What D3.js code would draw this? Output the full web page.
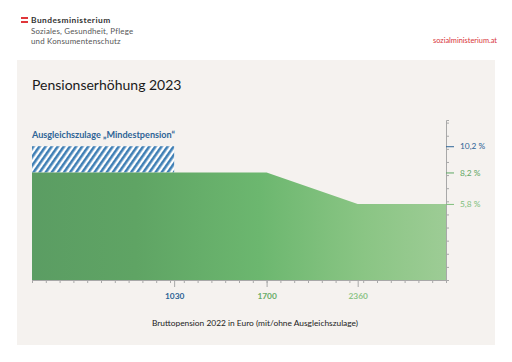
<!DOCTYPE html>
<html>
<head>
<meta charset="utf-8">
<script src="https://cdn.jsdelivr.net/npm/d3@7"></script>
<style>
  body { margin: 0; background: #fff; }
  svg { display: block; font-family: Lato, "Open Sans", sans-serif; }
</style>
</head>
<body>
<script>
// Daten
var stufenEuro = [0, 1030, 1700, 2360, 3000];       // Bruttopension 2022
var erhoehung  = [8.2, 8.2, 8.2, 5.8, 5.8];          // Erhöhung in %
var azGrenze = 1030, azWert = 10.2;                  // Ausgleichszulage
var xLabels = [1030, 1700, 2360];
var xLabelColors = ["#2e6496", "#68ad68", "#8cc487"];
var yLabels = [10.2, 8.2, 5.8];
var yLabelColors = ["#2e6496", "#5fa763", "#7fbf7c"];

var W = 512, H = 362;
var svg = d3.select("body").append("svg").attr("width", W).attr("height", H);

// Kopfzeile
svg.append("rect").attr("x", 21).attr("y", 17).attr("width", 7).attr("height", 2).attr("fill", "#e0363a");
svg.append("rect").attr("x", 21).attr("y", 21).attr("width", 7).attr("height", 2).attr("fill", "#e0363a");
svg.append("text").attr("x", 31).attr("y", 23).attr("font-size", 8.4).attr("font-weight", "bold")
    .attr("letter-spacing", 0.45).attr("fill", "#333").text("Bundesministerium");
var head = svg.append("text").attr("x", 31).attr("y", 33.5).attr("font-size", 7.9)
    .attr("letter-spacing", 0.2).attr("fill", "#555");
head.append("tspan").text("Soziales, Gesundheit, Pflege");
head.append("tspan").attr("x", 31).attr("dy", 10.5).text("und Konsumentenschutz");
svg.append("text").attr("x", 497).attr("y", 43).attr("text-anchor", "end")
    .attr("font-size", 7.4).attr("fill", "#d8333a").text("sozialministerium.at");

// Hintergrund Panel
svg.append("rect").attr("x", 17).attr("y", 60).attr("width", 478).attr("height", 285).attr("fill", "#f5f2ef");

svg.append("text").attr("x", 32).attr("y", 90).attr("font-size", 14).attr("fill", "#1a1a1a")
    .text("Pensionserhöhung 2023");

var margin = {left: 32, right: 66, top: 120, bottom: 82};
var plotW = W - margin.left - margin.right, plotH = H - margin.top - margin.bottom;
var g = svg.append("g").attr("transform", "translate(" + margin.left + "," + margin.top + ")");

var x = d3.scaleLinear().domain([0, 3000]).range([0, plotW]);
var y = d3.scaleLinear().domain([0, 12.2]).range([plotH, 0]);

// Verlauf und Schraffur
var defs = svg.append("defs");
var grad = defs.append("linearGradient").attr("id", "grn").attr("x1", "0").attr("x2", "1").attr("y1", "0").attr("y2", "0");
grad.append("stop").attr("offset", "0%").attr("stop-color", "#5b9d63");
grad.append("stop").attr("offset", "25%").attr("stop-color", "#5fa464");
grad.append("stop").attr("offset", "55%").attr("stop-color", "#6cb76f");
grad.append("stop").attr("offset", "80%").attr("stop-color", "#8ac584");
grad.append("stop").attr("offset", "100%").attr("stop-color", "#9dcc95");
var pat = defs.append("pattern").attr("id", "hatch").attr("patternUnits", "userSpaceOnUse")
    .attr("width", 5).attr("height", 5).attr("patternTransform", "rotate(35)");
pat.append("rect").attr("width", 5).attr("height", 5).attr("fill", "#ffffff");
pat.append("rect").attr("width", 2.6).attr("height", 5).attr("fill", "#3f7fb5");

// Ausgleichszulage
g.append("rect")
    .attr("x", x(0)).attr("y", y(azWert))
    .attr("width", x(azGrenze) - x(0)).attr("height", y(8.2) - y(azWert))
    .attr("fill", "url(#hatch)");
g.append("text").attr("x", x(0)).attr("y", y(azWert) - 8)
    .attr("font-size", 9.1).attr("font-weight", "bold").attr("fill", "#2e6496")
    .text("Ausgleichszulage „Mindestpension“");

// Fläche
var area = d3.area()
    .x(function(d, i) { return x(stufenEuro[i]); })
    .y0(y(0))
    .y1(function(d) { return y(d); });
g.append("path").datum(erhoehung).attr("d", area).attr("fill", "url(#grn)");

// X Achse
var xAxis = g.append("g").attr("transform", "translate(0," + plotH + ")")
    .call(d3.axisBottom(x).tickValues(d3.range(0, 3001, 100)).tickSize(3).tickFormat(""));
xAxis.select(".domain").attr("stroke", "#a8a8a8");
xAxis.selectAll(".tick line").attr("stroke", "#a8a8a8");
var xl = g.append("g").attr("transform", "translate(0," + plotH + ")")
    .call(d3.axisBottom(x).tickValues(xLabels).tickSize(7).tickPadding(6).tickFormat(d3.format("d")));
xl.select(".domain").remove();
xl.selectAll(".tick line").attr("stroke", "#a8a8a8");
xl.selectAll(".tick text").attr("font-size", 8.4).attr("font-family", "Lato, sans-serif")
    .attr("font-weight", "bold")
    .attr("fill", function(d, i) { return xLabelColors[i]; });

svg.append("text").attr("x", 255).attr("y", 326).attr("text-anchor", "middle")
    .attr("font-size", 8.4).attr("fill", "#222").text("Bruttopension 2022 in Euro (mit/ohne Ausgleichszulage)");

// Y Achse (rechts)
var yAxis = g.append("g").attr("transform", "translate(" + plotW + ",0)")
    .call(d3.axisRight(y).tickValues(d3.range(0, 13, 1)).tickSize(3).tickFormat(""));
yAxis.select(".domain").attr("stroke", "#a8a8a8");
yAxis.selectAll(".tick line").attr("stroke", "#a8a8a8");
var yl = g.append("g").attr("transform", "translate(" + plotW + ",0)")
    .call(d3.axisRight(y).tickValues(yLabels).tickSize(8).tickPadding(6)
        .tickFormat(function(d) { return d3.format(".1f")(d).replace(".", ",") + " %"; }));
yl.select(".domain").remove();
yl.selectAll(".tick line").attr("stroke", function(d, i) { return yLabelColors[i]; });
yl.selectAll(".tick text").attr("font-size", 8.4).attr("font-family", "Lato, sans-serif")
    .attr("fill", function(d, i) { return yLabelColors[i]; });
</script>
</body>
</html>
